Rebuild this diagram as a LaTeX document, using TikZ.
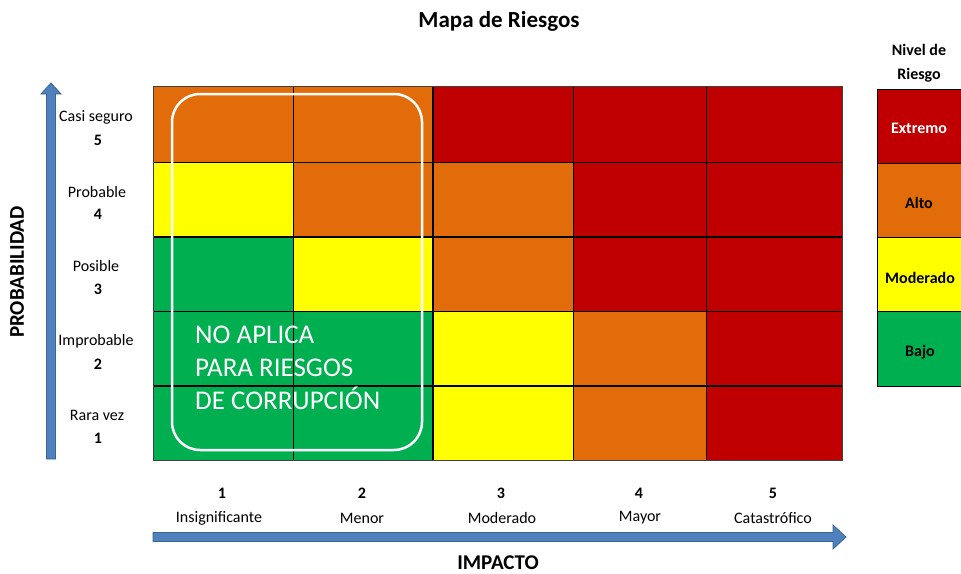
\documentclass[tikz,border=0pt]{standalone}
\usepackage{fontspec}
\setmainfont{Carlito}
\definecolor{rOrange}{HTML}{E36C0A}
\definecolor{rYellow}{HTML}{FFFF00}
\definecolor{rGreen}{HTML}{00B050}
\definecolor{rRed}{HTML}{C00000}
\definecolor{arrowBlue}{HTML}{4F81BD}
\definecolor{arrowEdge}{HTML}{3A6496}
\begin{document}
\begin{tikzpicture}[x=1pt,y=-1pt,
  ylabel/.style={font=\fontsize{16}{19}\selectfont, inner sep=0pt},
  ynum/.style={font=\bfseries\fontsize{16}{19}\selectfont, inner sep=0pt},
  xlabel/.style={font=\fontsize{16}{19}\selectfont, inner sep=0pt},
  xnum/.style={font=\bfseries\fontsize{16}{19}\selectfont, inner sep=0pt},
  legendlabel/.style={font=\bfseries\fontsize{16}{19}\selectfont, inner sep=0pt},
  axistitle/.style={font=\bfseries\fontsize{21}{24}\selectfont, inner sep=0pt},
  notetext/.style={font=\fontsize{27}{33}\selectfont, text=white, anchor=base west, inner sep=0pt},
  blockarrow/.style={fill=arrowBlue, draw=arrowEdge, line width=0.8pt, line join=miter},
  gridthin/.style={draw=black, line width=1pt},
  gridthick/.style={draw=black, line width=2pt}]
\useasboundingbox (0,0) rectangle (961,573);

% cells: row 5 (top)
\fill[rOrange] (153,86) rectangle (293,162);
\fill[rOrange] (293,86) rectangle (433,162);
\fill[rRed] (433,86) rectangle (573,162);
\fill[rRed] (573,86) rectangle (706,162);
\fill[rRed] (706,86) rectangle (842,162);
% row 4
\fill[rYellow] (153,162) rectangle (293,237);
\fill[rOrange] (293,162) rectangle (433,237);
\fill[rOrange] (433,162) rectangle (573,237);
\fill[rRed] (573,162) rectangle (706,237);
\fill[rRed] (706,162) rectangle (842,237);
% row 3
\fill[rGreen] (153,237) rectangle (293,311);
\fill[rYellow] (293,237) rectangle (433,311);
\fill[rOrange] (433,237) rectangle (573,311);
\fill[rRed] (573,237) rectangle (706,311);
\fill[rRed] (706,237) rectangle (842,311);
% row 2
\fill[rGreen] (153,311) rectangle (293,386);
\fill[rGreen] (293,311) rectangle (433,386);
\fill[rYellow] (433,311) rectangle (573,386);
\fill[rOrange] (573,311) rectangle (706,386);
\fill[rRed] (706,311) rectangle (842,386);
% row 1
\fill[rGreen] (153,386) rectangle (293,460);
\fill[rGreen] (293,386) rectangle (433,460);
\fill[rYellow] (433,386) rectangle (573,460);
\fill[rOrange] (573,386) rectangle (706,460);
\fill[rRed] (706,386) rectangle (842,460);

% grid lines
\draw[gridthin] (293,86) -- (293,460);
\draw[gridthin] (573,86) -- (573,460);
\draw[gridthin] (706,86) -- (706,460);
\draw[gridthin] (153,162) -- (842,162);
\draw[gridthin] (153,311) -- (842,311);
\draw[gridthick] (433,86) -- (433,460);
\draw[gridthick] (153,237) -- (842,237);
\draw[gridthick] (153,386) -- (842,386);
\draw[draw=black!75, line width=1pt] (153,86) rectangle (842,460);

% white rounded frame and note
\draw[white, line width=2.5pt, rounded corners=28pt] (172,94) rectangle (422,450);
\node[notetext] (note1) at (195,343) {NO APLICA};
\node[notetext] (note2) at (195,376) {PARA RIESGOS};
\node[notetext] (note3) at (195,409) {DE CORRUPCIÓN};

% title
\node[font=\bfseries\fontsize{23}{26}\selectfont, inner sep=0pt] (title) at (499,21) {Mapa de Riesgos};

% vertical arrow
\coordinate (vbot) at (51,459);
\coordinate (vtop) at (51,83);
\draw[blockarrow] (vbot) ++(-4.5,0) -- ++(0,-365) -- ++(-5.5,0) -- (vtop) -- ++(10,11) -- ++(-5.5,0) -- ++(0,365) -- cycle;

% horizontal arrow
\coordinate (hleft) at (153,537);
\coordinate (htip) at (846,537);
\draw[blockarrow] (hleft) ++(0,-4.5) -- ++(680,0) -- ++(0,-7.5) -- (htip) -- ++(-13,12) -- ++(0,-7.5) -- ++(-680,0) -- cycle;

% axis titles
\node[axistitle, rotate=90] (ptitle) at (17,272) {PROBABILIDAD};
\node[axistitle, anchor=base] (ititle) at (498,569.5) {IMPACTO};

% probability labels
\node[ylabel] (p5) at (96,117) {Casi seguro};
\node[ynum] (n5) at (98,140) {5};
\node[ylabel] (p4) at (97,192) {Probable};
\node[ynum] (n4) at (98,214) {4};
\node[ylabel] (p3) at (96,266) {Posible};
\node[ynum] (n3) at (98,289) {3};
\node[ylabel] (p2) at (96,341) {Improbable};
\node[ynum] (n2) at (98,364) {2};
\node[ylabel] (p1) at (97,415) {Rara vez};
\node[ynum] (n1) at (98,438) {1};

% impact labels
\node[xnum] (i1n) at (222,493) {1};
\node[xlabel] (i1) at (219,518) {Insignificante};
\node[xnum] (i2n) at (362,493) {2};
\node[xlabel] (i2) at (362,518) {Menor};
\node[xnum] (i3n) at (501,493) {3};
\node[xlabel] (i3) at (502,518) {Moderado};
\node[xnum] (i4n) at (639,493) {4};
\node[xlabel] (i4) at (640,518) {Mayor};
\node[xnum] (i5n) at (773,493) {5};
\node[xlabel] (i5) at (773,518) {Catastrófico};

% legend
\node[legendlabel] (lt1) at (919,50) {Nivel de};
\node[legendlabel] (lt2) at (919,75) {Riesgo};
\fill[rRed] (877,89) rectangle (965,163);
\fill[rOrange] (877,163) rectangle (965,237);
\fill[rYellow] (877,237) rectangle (965,311);
\fill[rGreen] (877,311) rectangle (965,386);
\draw[black, line width=1pt] (965,89) -- (877,89) -- (877,386) -- (965,386);
\draw[black, line width=1pt] (877,163) -- (965,163);
\draw[black, line width=1pt] (877,237) -- (965,237);
\draw[black, line width=1pt] (877,311) -- (965,311);
\node[legendlabel, text=white] (lext) at (919,128) {Extremo};
\node[legendlabel] (lalt) at (919,203) {Alto};
\node[legendlabel] (lmod) at (920,278) {Moderado};
\node[legendlabel] (lbaj) at (920,352) {Bajo};
\end{tikzpicture}
\end{document}
